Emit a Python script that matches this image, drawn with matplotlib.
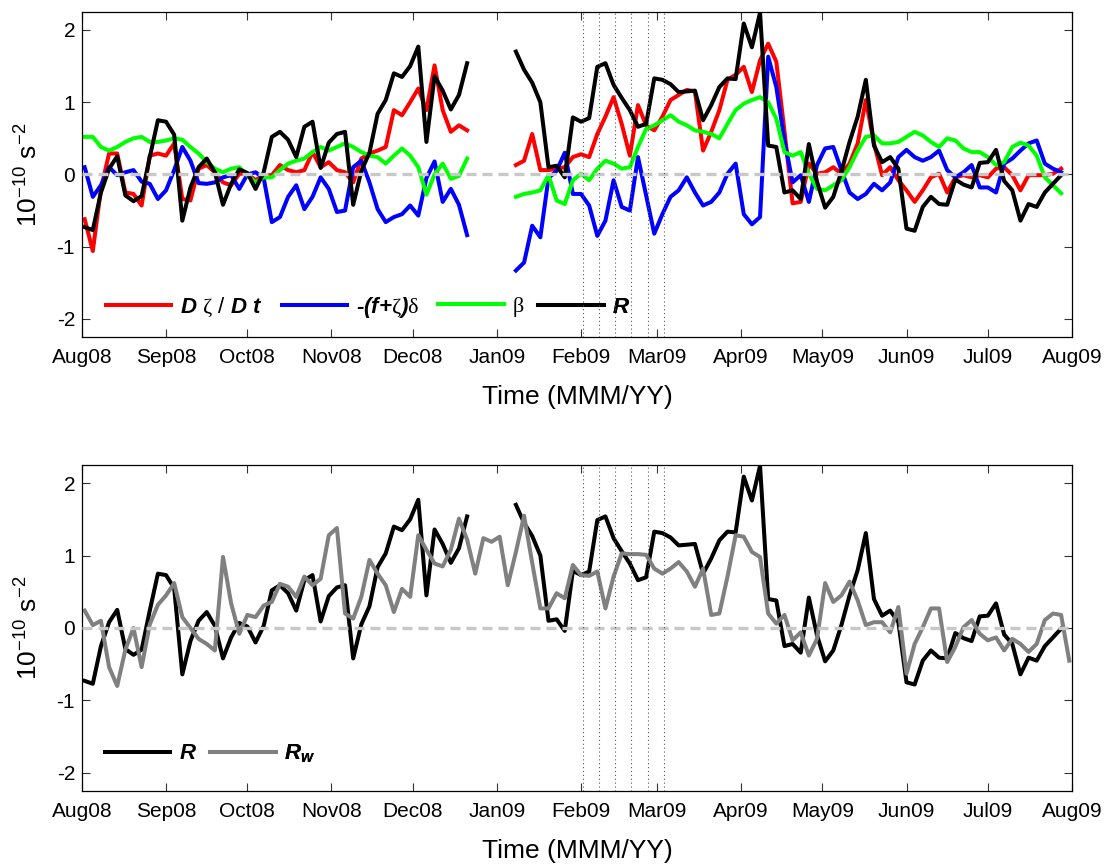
import numpy as np
import matplotlib
matplotlib.use("Agg")
import matplotlib.pyplot as plt
import matplotlib.dates as mdates
from matplotlib.lines import Line2D

plt.rcParams['font.family'] = ['Liberation Sans', 'DejaVu Sans']
plt.rcParams['axes.unicode_minus'] = False
plt.rcParams['mathtext.fontset'] = 'custom'
plt.rcParams['mathtext.rm'] = 'Liberation Sans'
plt.rcParams['mathtext.it'] = 'Liberation Sans:italic'
plt.rcParams['mathtext.bf'] = 'Liberation Sans:bold:italic'
plt.rcParams['mathtext.sf'] = 'Liberation Serif'

# 3-day sampling, 2 Aug 2008 - 31 Jul 2009
t_all = np.arange(np.datetime64('2008-08-02'), np.datetime64('2009-08-01'),
                  np.timedelta64(3, 'D'))
t_budget = t_all[:121]
nan = np.nan

# vorticity budget terms (1e-10 s^-2); gap late Dec - early Jan
dzeta_dt = [-0.62, -1.06, -0.20, 0.29, 0.29, -0.25, -0.27, -0.43, 0.26, 0.29,
            0.26, 0.43, -0.34, -0.36, 0.08, 0.13, 0.03, -0.11, -0.15, 0.01,
            0.01, -0.08, -0.01, -0.01, 0.13, 0.06, 0.03, 0.06, 0.31, 0.10,
            0.17, 0.06, 0.03, -0.11, 0.22, 0.29, 0.33, 0.38, 0.89, 0.82,
            1.00, 1.19, 0.89, 1.51, 0.89, 0.59, 0.68, 0.61,
            nan, nan, nan, nan, nan,
            0.13, 0.19, 0.56, 0.06, 0.06, 0.08, 0.10, 0.24, 0.28, 0.24,
            0.56, 0.80, 1.07, 0.70, 0.26, 0.96, 0.68, 0.61, 0.80, 1.03,
            1.10, 1.17, 1.15, 0.33, 0.59, 0.89, 1.31, 1.38, 1.49, 1.14,
            1.58, 1.81, 1.56, 0.60, -0.40, -0.38, 0.15, 0.01, 0.03, 0.10,
            0.01, 0.15, 0.43, 1.03, 0.43, -0.01, 0.10, -0.08, -0.22, -0.38,
            -0.22, -0.04, 0.01, -0.25, -0.04, -0.01, -0.04, -0.01, -0.04, 0.08,
            0.10, -0.01, -0.22, -0.01, -0.01, -0.01, 0.01, 0.08]

stretching = [0.10, -0.31, -0.15, 0.10, -0.01, 0.03, 0.06, -0.10, -0.13, -0.34,
              -0.22, 0.06, 0.38, 0.19, -0.12, -0.13, -0.11, -0.04, -0.01, -0.20,
              0.00, 0.03, -0.05, -0.66, -0.59, -0.31, -0.15, -0.48, -0.31, -0.04,
              -0.20, -0.52, -0.50, 0.10, 0.19, -0.11, -0.48, -0.66, -0.59, -0.55,
              -0.43, -0.57, -0.05, 0.18, -0.38, -0.20, -0.42, -0.84,
              nan, nan, nan, nan, nan,
              -1.33, -1.22, -0.71, -0.87, -0.05, 0.05, 0.30, -0.27, -0.27, -0.43,
              -0.85, -0.64, -0.08, -0.45, -0.50, 0.24, -0.29, -0.82, -0.55, -0.31,
              -0.22, -0.04, -0.25, -0.43, -0.38, -0.25, 0.01, 0.15, -0.55, -0.69,
              -0.59, 1.63, 1.21, 0.47, -0.11, -0.01, -0.38, 0.13, 0.36, 0.38,
              0.06, -0.25, -0.34, -0.27, -0.13, -0.22, -0.11, 0.24, 0.34, 0.24,
              0.19, 0.24, 0.33, 0.06, -0.04, 0.03, 0.13, -0.18, -0.18, -0.25,
              0.15, 0.22, 0.33, 0.43, 0.47, 0.15, 0.08, 0.03]

beta_term = [0.52, 0.52, 0.38, 0.33, 0.38, 0.45, 0.50, 0.52, 0.45, 0.45,
             0.47, 0.50, 0.48, 0.38, 0.29, 0.17, 0.08, 0.03, 0.08, 0.10,
             -0.01, -0.11, -0.04, -0.04, 0.06, 0.15, 0.19, 0.22, 0.31, 0.38,
             0.33, 0.38, 0.43, 0.38, 0.31, 0.26, 0.24, 0.15, 0.26, 0.36,
             0.26, 0.10, -0.28, 0.00, 0.15, -0.06, -0.02, 0.22,
             nan, nan, nan, nan, nan,
             -0.31, -0.27, -0.25, -0.22, -0.01, -0.36, -0.41, -0.08, 0.01, -0.08,
             0.08, 0.19, 0.15, 0.08, 0.10, 0.38, 0.63, 0.68, 0.75, 0.82,
             0.73, 0.68, 0.61, 0.59, 0.56, 0.50, 0.70, 0.89, 0.98, 1.03,
             1.07, 1.00, 0.77, 0.31, 0.26, 0.31, 0.01, -0.20, -0.22, -0.15,
             -0.08, 0.10, 0.33, 0.52, 0.54, 0.43, 0.43, 0.45, 0.52, 0.59,
             0.54, 0.45, 0.38, 0.50, 0.47, 0.36, 0.31, 0.31, 0.24, 0.13,
             0.17, 0.38, 0.44, 0.40, 0.26, -0.04, -0.15, -0.26]

residual = [-0.73, -0.77, -0.25, 0.08, 0.25, -0.29, -0.37, -0.30, 0.24, 0.75,
            0.73, 0.55, -0.64, -0.18, 0.10, 0.22, 0.03, -0.42, -0.13, 0.07,
            0.02, -0.20, 0.03, 0.52, 0.59, 0.48, 0.24, 0.66, 0.73, 0.09,
            0.44, 0.56, 0.59, -0.42, 0.05, 0.30, 0.84, 1.03, 1.40, 1.35,
            1.50, 1.77, 0.45, 1.36, 1.16, 0.90, 1.10, 1.54,
            nan, nan, nan, nan, nan,
            1.70, 1.45, 1.27, 1.00, 0.10, 0.12, -0.04, 0.79, 0.73, 0.78,
            1.49, 1.54, 1.24, 1.06, 0.89, 0.66, 0.70, 1.33, 1.31, 1.25,
            1.14, 1.15, 1.16, 0.75, 0.96, 1.21, 1.33, 1.32, 2.09, 1.76,
            2.24, 0.40, 0.38, -0.25, -0.22, -0.34, 0.42, -0.10, -0.46, -0.31,
            0.04, 0.45, 0.80, 1.31, 0.40, 0.17, 0.24, 0.08, -0.75, -0.78,
            -0.45, -0.31, -0.41, -0.42, -0.07, -0.14, -0.18, 0.16, 0.17, 0.34,
            -0.09, -0.22, -0.64, -0.41, -0.45, -0.25, -0.13, -0.01]

residual_w = [0.24, 0.04, 0.10, -0.54, -0.80, -0.30, 0.00, -0.54, 0.05, 0.32,
              0.45, 0.62, 0.15, 0.00, -0.15, -0.22, -0.31, 0.98, 0.34, -0.08,
              0.18, 0.15, 0.31, 0.36, 0.61, 0.57, 0.43, 0.71, 0.59, 0.68,
              1.28, 1.38, 0.20, 0.13, 0.43, 0.94, 0.75, 0.59, 0.22, 0.54,
              0.43, 1.28, 1.08, 0.89, 0.85, 1.08, 1.51, 1.22, 0.75, 1.24,
              1.19, 1.26, 0.59, 1.05, 1.55, 0.90, 0.27, 0.27, 0.48, 0.41,
              0.87, 0.73, 0.72, 0.78, 0.27, 0.71, 1.03, 1.02, 1.02, 1.01,
              0.82, 0.75, 0.82, 0.91, 0.78, 0.57, 0.82, 0.18, 0.20, 0.71,
              1.28, 1.26, 1.05, 0.98, 0.20, 0.06, 0.18, -0.17, -0.06, -0.38,
              -0.15, 0.62, 0.36, 0.45, 0.64, 0.38, 0.04, 0.08, 0.08, -0.06,
              0.29, -0.63, -0.22, 0.01, 0.27, 0.27, -0.47, -0.26, 0.01, 0.11,
              -0.08, -0.17, -0.13, -0.31, -0.15, -0.22, -0.33, -0.22, 0.11, 0.20,
              0.18, -0.45]

# survey-period markers (6-day spacing)
survey_marks = ['2009-02-01T14', '2009-02-07T14', '2009-02-13T14',
                '2009-02-19T14', '2009-02-25T14', '2009-03-03T14']

yticks = [-2, -1, 0, 1, 2]
ytick_labels = ['-2', '-1', '0', '1', '2']

LW = 2.9
FS_TICK = 15
LEG_PROP = dict(family='Liberation Sans', weight='bold', style='italic', size=16)


def style_axes(ax):
    ax.set_xlim(np.datetime64('2008-08-01'), np.datetime64('2009-08-01'))
    ax.set_ylim(-2.25, 2.25)
    ax.xaxis.set_major_locator(mdates.MonthLocator())
    ax.xaxis.set_major_formatter(mdates.DateFormatter('%b%y'))
    ax.set_yticks(yticks)
    ax.set_yticklabels(ytick_labels)
    ax.tick_params(direction='in', length=6, width=0.8, top=True, right=True,
                   labelsize=FS_TICK, color='#333333')
    ax.tick_params(axis='x', pad=8)
    ax.tick_params(axis='y', pad=5)
    for s in ax.spines.values():
        s.set_linewidth(0.9)
    ax.set_xlabel('Time (MMM/YY)', fontsize=19, labelpad=13)
    ax.set_ylabel(r'10$^{-10}$ s$^{-2}$', fontsize=19)
    ax.yaxis.set_label_coords(-0.040, 0.5)
    ax.axhline(0, color='#c8c8c8', lw=2.4, dashes=(3.0, 1.8), zorder=5)
    for d in survey_marks:
        ax.axvline(np.datetime64(d), color='#555555', lw=0.8,
                   linestyle=(0, (1, 2.5)), zorder=6)


def legend_entry(ax, color, label, x, y):
    h = Line2D([], [], color=color, lw=LW)
    leg = ax.legend(handles=[h], labels=[label], loc='center left',
                    bbox_to_anchor=(x, y), frameon=False, borderpad=0,
                    borderaxespad=0, handlelength=2.95, handletextpad=0.4,
                    prop=LEG_PROP)
    ax.add_artist(leg)


fig = plt.figure(figsize=(11.09, 8.64), dpi=100)
ax1 = fig.add_axes([0.0739, 0.6100, 0.8927, 0.3762])
ax2 = fig.add_axes([0.0739, 0.0845, 0.8927, 0.3773])

# top: vorticity budget
ax1.plot(t_budget, dzeta_dt, color='#ff0000', lw=LW)
ax1.plot(t_budget, stretching, color='#0000ff', lw=LW)
ax1.plot(t_budget, beta_term, color='#00ff00', lw=LW)
ax1.plot(t_budget, residual, color='black', lw=LW)
style_axes(ax1)

lab_dzdt = r'D $\mathsf{\zeta}$ $\mathrm{/}$ D t'
lab_str = r'-(f+$\mathsf{\zeta}$)$\mathsf{\delta}$'
lab_beta = r'$\mathsf{\beta}$'
lab_r = 'R'
legend_entry(ax1, '#ff0000', lab_dzdt, 0.0242, 0.092)
legend_entry(ax1, '#0000ff', lab_str, 0.2020, 0.092)
legend_entry(ax1, '#00ff00', lab_beta, 0.3596, 0.092)
legend_entry(ax1, 'black', lab_r, 0.4606, 0.092)

# bottom: residual vs wind-driven residual
ax2.plot(t_budget, residual, color='black', lw=LW)
ax2.plot(t_all, residual_w, color='#808080', lw=LW)
style_axes(ax2)
legend_entry(ax2, 'black', lab_r, 0.0232, 0.114)
legend_entry(ax2, '#808080', r'R$_{\mathbf{w}}$', 0.1293, 0.114)

fig.savefig('out.png', dpi=100)
